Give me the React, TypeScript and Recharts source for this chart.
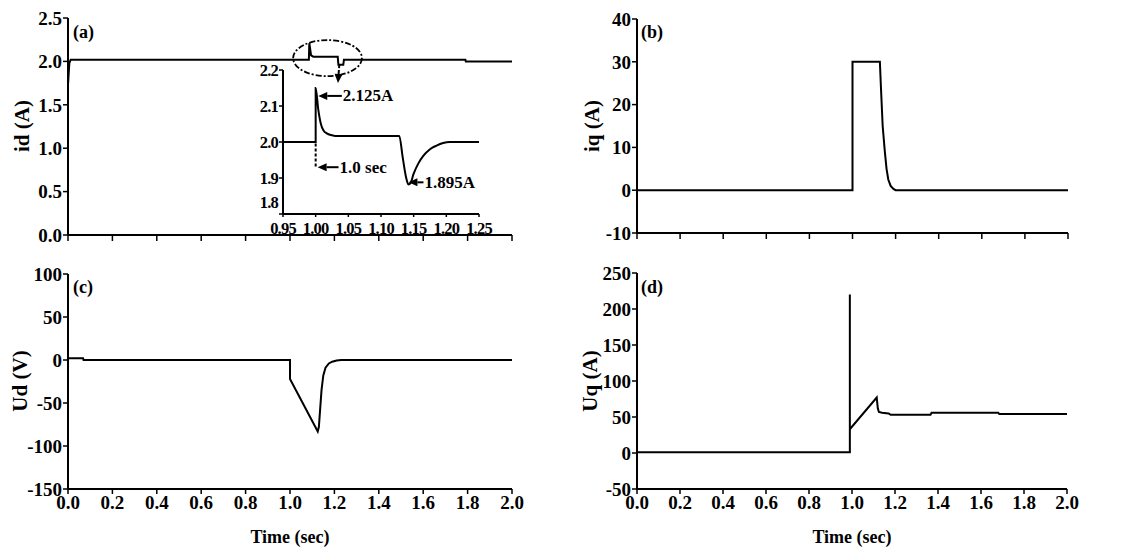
import React from 'react';
import { LineChart, Line, XAxis, YAxis, ReferenceLine, ReferenceArea } from 'recharts';

// ---- tick labels ----
const timeTicks = [0, 0.2, 0.4, 0.6, 0.8, 1.0, 1.2, 1.4, 1.6, 1.8, 2.0];
const idTicks = [0, 0.5, 1.0, 1.5, 2.0, 2.5];
const iqTicks = [-10, 0, 10, 20, 30, 40];
const udTicks = [-150, -100, -50, 0, 50, 100];
const uqTicks = [-50, 0, 50, 100, 150, 200, 250];
const insetTimeTicks = [0.95, 1.0, 1.05, 1.1, 1.15, 1.2, 1.25];
const insetIdTicks = [1.8, 1.9, 2.0, 2.1, 2.2];

// ---- series (a) id ----
const idTime = [0, 0.006, 0.012, 1.085, 1.087, 1.095, 1.105, 1.215, 1.218, 1.24, 1.243, 1.79, 1.792, 2.0];
const idValues = [1.73, 1.98, 2.02, 2.02, 2.21, 2.07, 2.055, 2.055, 1.96, 1.96, 2.02, 2.02, 2.0, 2.0];

// ---- inset of (a) ----
const insetTime = [0.95, 1.0, 1.0, 1.004, 1.008, 1.012, 1.017, 1.022, 1.03, 1.128, 1.133, 1.138, 1.142, 1.145, 1.15, 1.157, 1.165, 1.175, 1.185, 1.195, 1.205, 1.25];
const insetValues = [2.0, 2.0, 2.15, 2.09, 2.05, 2.032, 2.024, 2.02, 2.017, 2.017, 1.96, 1.905, 1.882, 1.885, 1.912, 1.94, 1.962, 1.98, 1.99, 1.997, 2.0, 2.0];

// ---- series (b) iq ----
const iqTime = [0, 1.0, 1.0, 1.127, 1.132, 1.14, 1.15, 1.158, 1.166, 1.177, 1.19, 1.2, 2.0];
const iqValues = [0, 0, 30, 30, 24, 15, 9, 5, 2.5, 1, 0.3, 0, 0];

// ---- series (c) Ud ----
const udTime = [0, 0.068, 0.07, 1.0, 1.0, 1.125, 1.13, 1.135, 1.142, 1.15, 1.16, 1.175, 1.19, 1.21, 1.23, 2.0];
const udValues = [2, 2, 0, 0, -22, -83, -78, -60, -35, -18, -9, -4, -2, -0.5, 0, 0];

// ---- series (d) Uq ----
const uqTime = [0, 0.99, 0.99, 0.99, 1.115, 1.12, 1.125, 1.14, 1.17, 1.18, 1.365, 1.37, 1.68, 1.685, 2.0];
const uqValues = [1, 1, 220, 33, 77, 62, 57, 56, 55, 53, 53, 56, 56, 54, 54];

const zip = (ts: number[], vs: number[]) => ts.map((t, i) => ({ t, v: vs[i] }));

const SERIF = 'Liberation Serif';
const tickStyle = { fontFamily: SERIF, fontWeight: 700, fontSize: 19, fill: '#000' };
const insetTickStyle = { fontFamily: SERIF, fontWeight: 700, fontSize: 16.5, fill: '#000', letterSpacing: -0.8 };
const axisLine = { stroke: '#000', strokeWidth: 2 };
const tickLine = { stroke: '#000', strokeWidth: 1.5 };

const f1 = (v: number) => v.toFixed(1);
const f2 = (v: number) => v.toFixed(2);

const makeArrow = (label: string, dashed = false) => (p: any) => {
  const { x1, y1, x2, y2 } = p;
  const ang = Math.atan2(y1 - y2, x1 - x2);
  const L = 9;
  const W = 4;
  const bx = x1 - L * Math.cos(ang);
  const by = y1 - L * Math.sin(ang);
  const px = -Math.sin(ang) * W;
  const py = Math.cos(ang) * W;
  return (
    <g>
      <line x1={bx} y1={by} x2={x2} y2={y2} stroke="#000" strokeWidth={2} strokeDasharray={dashed ? '4 2' : undefined} />
      <polygon points={`${x1},${y1} ${bx + px},${by + py} ${bx - px},${by - py}`} fill="#000" />
      {label ? (
        <text x={x2 + 1} y={y2} dominantBaseline="central" fontFamily={SERIF} fontWeight={700} fontSize={17} fill="#000">
          {label}
        </text>
      ) : null}
    </g>
  );
};

const ellipseShape = (p: any) => (
  <ellipse
    cx={p.x + p.width / 2}
    cy={p.y + p.height / 2}
    rx={Math.abs(p.width) / 2}
    ry={Math.abs(p.height) / 2}
    fill="none"
    stroke="#000"
    strokeWidth={1.8}
    strokeDasharray="6 2 2 2"
  />
);

const InsetYTick = (props: any) => {
  const { x, y, payload } = props;
  const shift = payload.value === 1.8 ? -12 : 0;
  return (
    <text x={x} y={y + shift} textAnchor="end" dominantBaseline="central" {...insetTickStyle}>
      {f1(payload.value)}
    </text>
  );
};

const Title = ({ text, x, y, rotate, size }: { text: string; x: number; y: number; rotate?: boolean; size: number }) => (
  <div
    style={{
      position: 'absolute',
      left: x,
      top: y,
      transform: `translate(-50%, -50%)${rotate ? ' rotate(-90deg)' : ''}`,
      fontFamily: SERIF,
      fontWeight: 700,
      fontSize: size,
      whiteSpace: 'nowrap',
      lineHeight: 1,
      color: '#000',
    }}
  >
    {text}
  </div>
);

const PanelTag = ({ text, x, y }: { text: string; x: number; y: number }) => (
  <div style={{ position: 'absolute', left: x, top: y, fontFamily: SERIF, fontWeight: 700, fontSize: 18, lineHeight: 1, color: '#000' }}>
    {text}
  </div>
);

const Frame = ({ xDomain, yDomain }: { xDomain: number[]; yDomain: number[] }) => [
  <XAxis key="xt" xAxisId="top" orientation="top" type="number" domain={xDomain} allowDataOverflow height={0} tick={false} tickLine={false} axisLine={axisLine} />,
  <YAxis key="yr" yAxisId="right" orientation="right" type="number" domain={yDomain} allowDataOverflow width={0} tick={false} tickLine={false} axisLine={axisLine} />,
];

export default function App() {
  return (
    <div style={{ position: 'absolute', left: 0, top: 0, width: 1137, height: 548, background: '#fff', overflow: 'hidden', fontFamily: SERIF }}>
      {/* (a) */}
      <div style={{ position: 'absolute', left: 0, top: 0 }}>
        <LineChart width={530} height={250} data={zip(idTime, idValues)} margin={{ top: 18, right: 18, left: 0, bottom: 5 }}>
          <XAxis dataKey="t" type="number" domain={[0, 2]} ticks={timeTicks} allowDataOverflow height={10} tickFormatter={() => ''} tickSize={6} axisLine={axisLine} tickLine={tickLine} tick={tickStyle} />
          <YAxis type="number" domain={[0, 2.5]} ticks={idTicks} allowDataOverflow width={68} tickFormatter={f1} tickSize={5} tickMargin={1} axisLine={axisLine} tickLine={tickLine} tick={tickStyle} />
          {Frame({ xDomain: [0, 2], yDomain: [0, 2.5] })}
          <Line dataKey="v" type="linear" stroke="#000" strokeWidth={2} dot={false} isAnimationActive={false} />
          <ReferenceArea x1={1.014} x2={1.324} y1={1.83} y2={2.246} ifOverflow="visible" shape={ellipseShape} />
          <ReferenceLine segment={[{ x: 1.216, y: 1.751 }, { x: 1.222, y: 1.96 }]} ifOverflow="visible" shape={makeArrow('', true)} />
        </LineChart>
      </div>

      {/* inset of (a) */}
      <div style={{ position: 'absolute', left: 240, top: 60 }}>
        <LineChart width={275} height={180} data={zip(insetTime, insetValues)} margin={{ top: 10, right: 36, left: 0, bottom: 6 }}>
          <XAxis dataKey="t" type="number" domain={[0.95, 1.25]} ticks={insetTimeTicks} allowDataOverflow height={20} tickFormatter={f2} tickSize={3} tickMargin={5} axisLine={axisLine} tickLine={tickLine} tick={insetTickStyle} interval={0} />
          <YAxis type="number" domain={[1.8, 2.2]} ticks={insetIdTicks} allowDataOverflow width={43} tickSize={4} tickMargin={1} axisLine={axisLine} tickLine={tickLine} tick={<InsetYTick />} interval={0} />
          {Frame({ xDomain: [0.95, 1.25], yDomain: [1.8, 2.2] })}
          <Line dataKey="v" type="monotone" stroke="#000" strokeWidth={2} dot={false} isAnimationActive={false} />
          <ReferenceLine segment={[{ x: 1.0, y: 1.996 }, { x: 1.0, y: 1.93 }]} stroke="#000" strokeWidth={2} strokeDasharray="3 2" ifOverflow="visible" />
          <ReferenceLine segment={[{ x: 1.004, y: 2.128 }, { x: 1.04, y: 2.128 }]} ifOverflow="visible" shape={makeArrow('2.125A')} />
          <ReferenceLine segment={[{ x: 1.003, y: 1.93 }, { x: 1.035, y: 1.93 }]} ifOverflow="visible" shape={makeArrow('1.0 sec')} />
          <ReferenceLine segment={[{ x: 1.142, y: 1.888 }, { x: 1.165, y: 1.888 }]} ifOverflow="visible" shape={makeArrow('1.895A')} />
        </LineChart>
      </div>

      {/* (b) */}
      <div style={{ position: 'absolute', left: 560, top: 0 }}>
        <LineChart width={520} height={250} data={zip(iqTime, iqValues)} margin={{ top: 19, right: 12, left: 0, bottom: 7 }}>
          <XAxis dataKey="t" type="number" domain={[0, 2]} ticks={timeTicks} allowDataOverflow height={10} tickFormatter={() => ''} tickSize={6} axisLine={axisLine} tickLine={tickLine} tick={tickStyle} />
          <YAxis type="number" domain={[-10, 40]} ticks={iqTicks} allowDataOverflow width={77} tickSize={5} tickMargin={1} axisLine={axisLine} tickLine={tickLine} tick={tickStyle} />
          {Frame({ xDomain: [0, 2], yDomain: [-10, 40] })}
          <Line dataKey="v" type="linear" stroke="#000" strokeWidth={2} dot={false} isAnimationActive={false} />
        </LineChart>
      </div>

      {/* (c) */}
      <div style={{ position: 'absolute', left: 0, top: 255 }}>
        <LineChart width={530} height={293} data={zip(udTime, udValues)} margin={{ top: 19, right: 18, left: 0, bottom: 4 }}>
          <XAxis dataKey="t" type="number" domain={[0, 2]} ticks={timeTicks} allowDataOverflow height={55} tickFormatter={f1} tickSize={5} tickMargin={2} axisLine={axisLine} tickLine={tickLine} tick={tickStyle} interval={0} />
          <YAxis type="number" domain={[-150, 100]} ticks={udTicks} allowDataOverflow width={68} tickSize={5} tickMargin={1} axisLine={axisLine} tickLine={tickLine} tick={tickStyle} />
          {Frame({ xDomain: [0, 2], yDomain: [-150, 100] })}
          <Line dataKey="v" type="linear" stroke="#000" strokeWidth={2} dot={false} isAnimationActive={false} />
        </LineChart>
      </div>

      {/* (d) */}
      <div style={{ position: 'absolute', left: 560, top: 255 }}>
        <LineChart width={520} height={293} data={zip(uqTime, uqValues)} margin={{ top: 18, right: 13, left: 0, bottom: 4 }}>
          <XAxis dataKey="t" type="number" domain={[0, 2]} ticks={timeTicks} allowDataOverflow height={55} tickFormatter={f1} tickSize={5} tickMargin={2} axisLine={axisLine} tickLine={tickLine} tick={tickStyle} interval={0} />
          <YAxis type="number" domain={[-50, 250]} ticks={uqTicks} allowDataOverflow width={77} tickSize={5} tickMargin={1} axisLine={axisLine} tickLine={tickLine} tick={tickStyle} />
          {Frame({ xDomain: [0, 2], yDomain: [-50, 250] })}
          <Line dataKey="v" type="linear" stroke="#000" strokeWidth={2} dot={false} isAnimationActive={false} />
        </LineChart>
      </div>

      <Title text="id (A)" x={22} y={126} size={21} rotate />
      <Title text="iq (A)" x={592} y={126} size={21} rotate />
      <Title text="Ud (V)" x={20} y={381} size={21} rotate />
      <Title text="Uq (A)" x={590} y={381} size={21} rotate />
      <Title text="Time (sec)" x={290} y={537} size={18} />
      <Title text="Time (sec)" x={852} y={537} size={18} />

      <PanelTag text="(a)" x={73} y={23} />
      <PanelTag text="(b)" x={641} y={23} />
      <PanelTag text="(c)" x={73} y={278} />
      <PanelTag text="(d)" x={641} y={278} />
    </div>
  );
}
